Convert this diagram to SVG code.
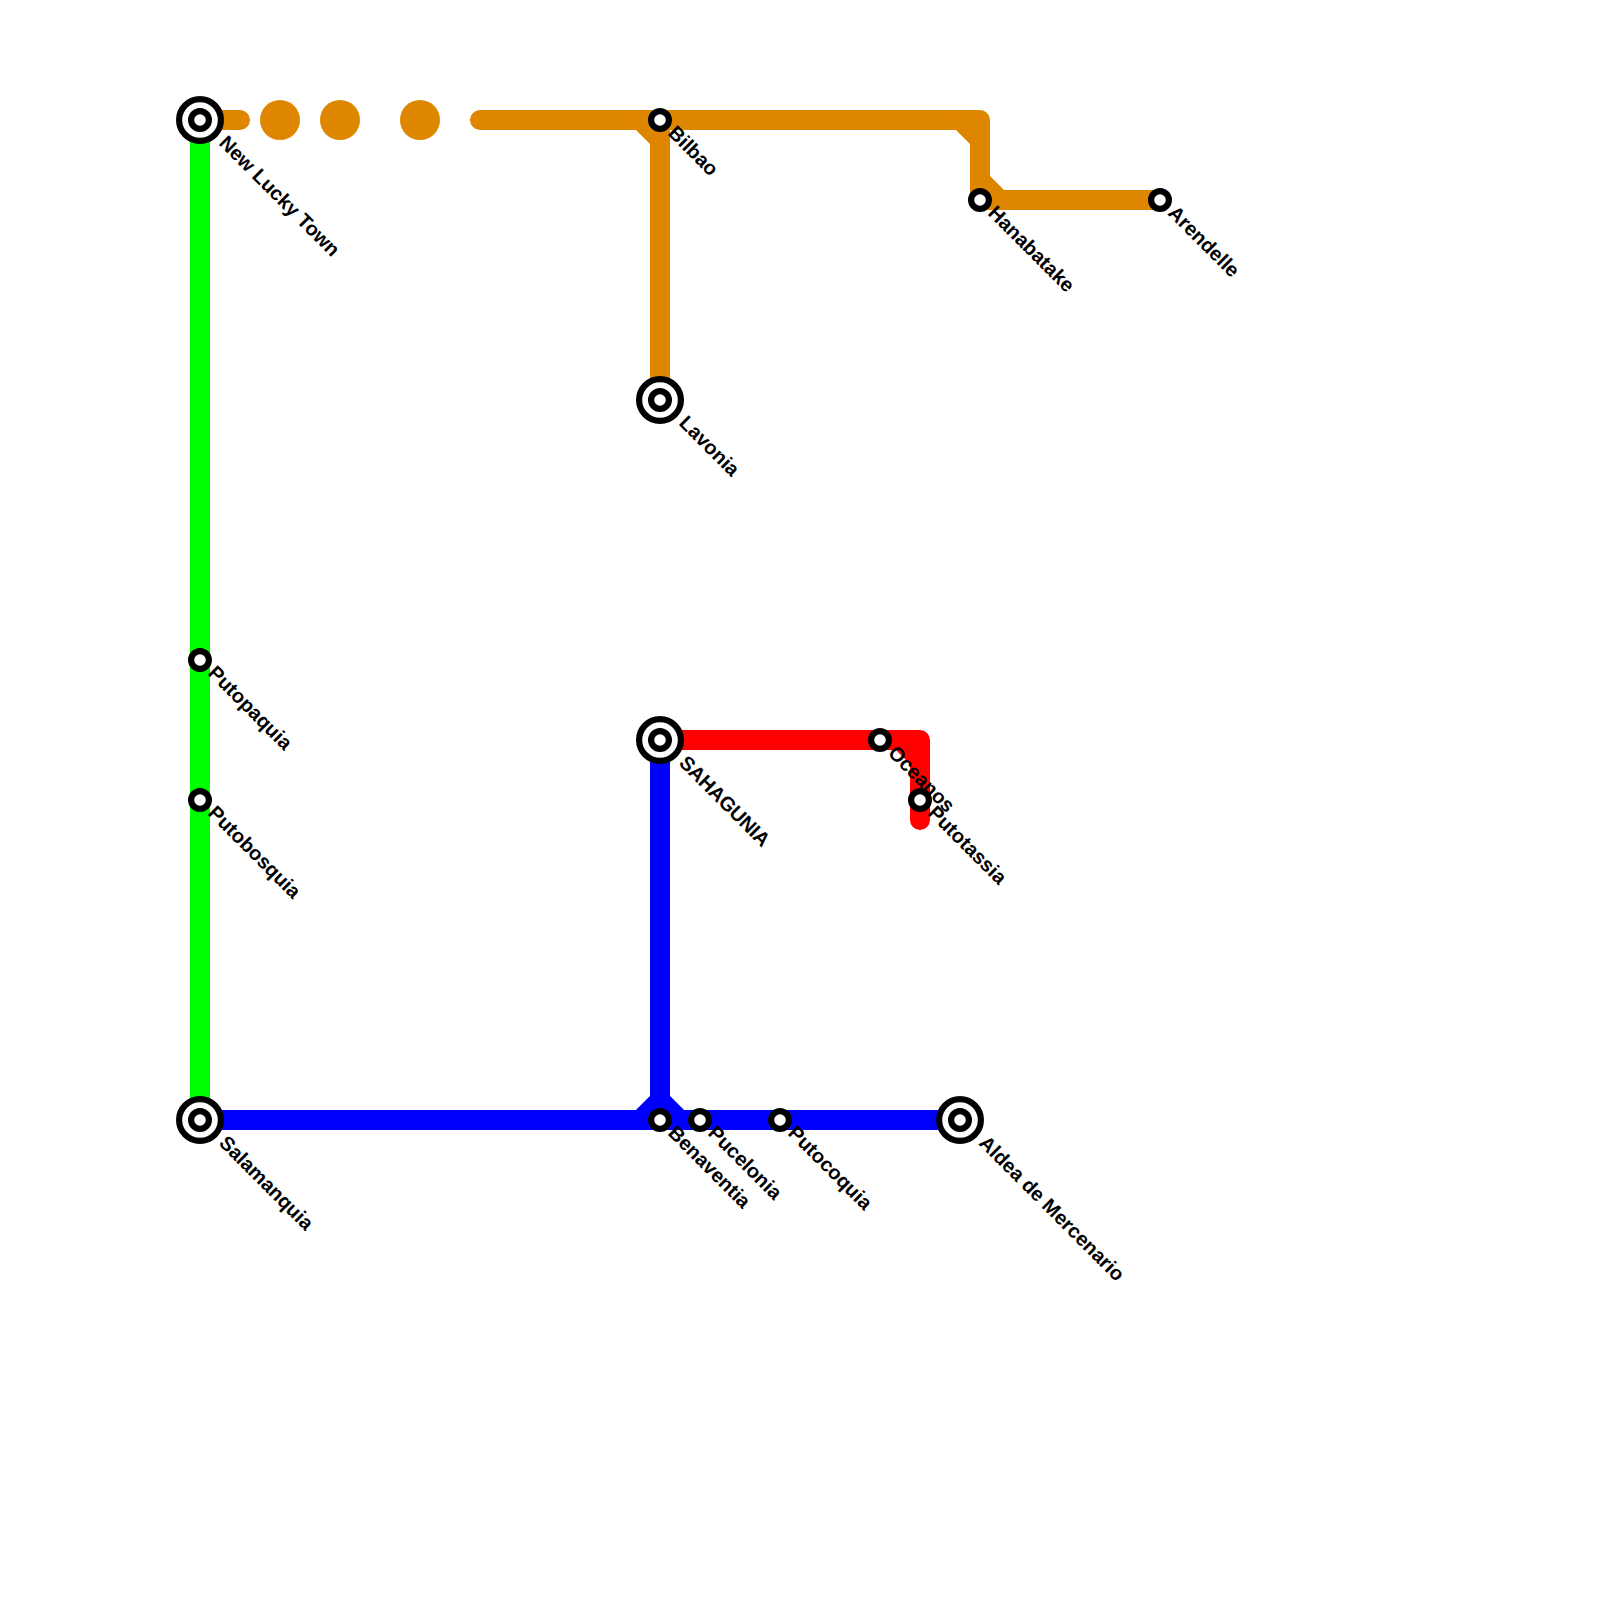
<svg xmlns="http://www.w3.org/2000/svg" width="1600" height="1600" viewBox="0 0 1600 1600">
<style>
.line{fill:none;stroke-width:20;stroke-linecap:round;stroke-linejoin:round}
.o{stroke:#df8600}.g{stroke:#00ff00}.b{stroke:#0000ff}.r{stroke:#ff0000}
.dot{fill:#df8600}
.ring{fill:#fff;stroke:#000;stroke-width:6.2}
text{font-family:"Liberation Sans",Arial,sans-serif;font-weight:bold;font-size:20px;fill:#000}
</style>
<rect width="1600" height="1600" fill="#fff"/>
<g id="connectors">
<path class="line g" stroke-linecap="butt" d="M200 120V1120"/>
<path class="line o" d="M200 120H240"/>
<circle class="dot" cx="280" cy="120" r="20"/>
<circle class="dot" cx="340" cy="120" r="20"/>
<circle class="dot" cx="420" cy="120" r="20"/>
<path class="line o" d="M480 120H980V180L1000 200H1160"/>
<path class="line o" d="M960 120L980 140M980 180V200H1000"/>
<path class="line o" d="M640 120L660 140M660 120V400"/>
<path class="line b" d="M200 1120H960M660 740V1120M640 1120L660 1100L680 1120"/>
<path class="line r" d="M660 740H920V820"/>
<path class="line r" d="M900 740L920 760"/>
</g>
<g id="labels">
<text transform="translate(218 144) rotate(45)">New Lucky Town</text>
<text transform="translate(667 134) rotate(45)">Bilbao</text>
<text transform="translate(678 424) rotate(45)">Lavonia</text>
<text transform="translate(987 214) rotate(45)">Hanabatake</text>
<text transform="translate(1167 214) rotate(45)">Arendelle</text>
<text transform="translate(207 674) rotate(45)">Putopaquia</text>
<text transform="translate(207 814) rotate(45)">Putobosquia</text>
<text transform="translate(678 764) rotate(45)" letter-spacing="-0.3">SAHAGUNIA</text>
<text transform="translate(887 754) rotate(45)">Oceanos</text>
<text transform="translate(927 814) rotate(45)">Putotassia</text>
<text transform="translate(218 1144) rotate(45)">Salamanquia</text>
<text transform="translate(667 1134) rotate(45)">Benaventia</text>
<text transform="translate(707 1134) rotate(45)">Pucelonia</text>
<text transform="translate(787 1134) rotate(45)">Putocoquia</text>
<text transform="translate(978 1144) rotate(45)">Aldea de Mercenario</text>
</g>
<g id="n-newluckytown"><circle class="ring" cx="200" cy="120" r="20.9"/><circle class="ring" cx="200" cy="120" r="8.9"/></g>
<g id="n-bilbao"><circle class="ring" cx="660" cy="120" r="8.9"/></g>
<g id="n-lavonia"><circle class="ring" cx="660" cy="400" r="20.9"/><circle class="ring" cx="660" cy="400" r="8.9"/></g>
<g id="n-hanabatake"><circle class="ring" cx="980" cy="200" r="8.9"/></g>
<g id="n-arendelle"><circle class="ring" cx="1160" cy="200" r="8.9"/></g>
<g id="n-putopaquia"><circle class="ring" cx="200" cy="660" r="8.9"/></g>
<g id="n-putobosquia"><circle class="ring" cx="200" cy="800" r="8.9"/></g>
<g id="n-sahagunia"><circle class="ring" cx="660" cy="740" r="20.9"/><circle class="ring" cx="660" cy="740" r="8.9"/></g>
<g id="n-oceanos"><circle class="ring" cx="880" cy="740" r="8.9"/></g>
<g id="n-putotassia"><circle class="ring" cx="920" cy="800" r="8.9"/></g>
<g id="n-salamanquia"><circle class="ring" cx="200" cy="1120" r="20.9"/><circle class="ring" cx="200" cy="1120" r="8.9"/></g>
<g id="n-benaventia"><circle class="ring" cx="660" cy="1120" r="8.9"/></g>
<g id="n-pucelonia"><circle class="ring" cx="700" cy="1120" r="8.9"/></g>
<g id="n-putocoquia"><circle class="ring" cx="780" cy="1120" r="8.9"/></g>
<g id="n-aldea"><circle class="ring" cx="960" cy="1120" r="20.9"/><circle class="ring" cx="960" cy="1120" r="8.9"/></g>
</svg>
